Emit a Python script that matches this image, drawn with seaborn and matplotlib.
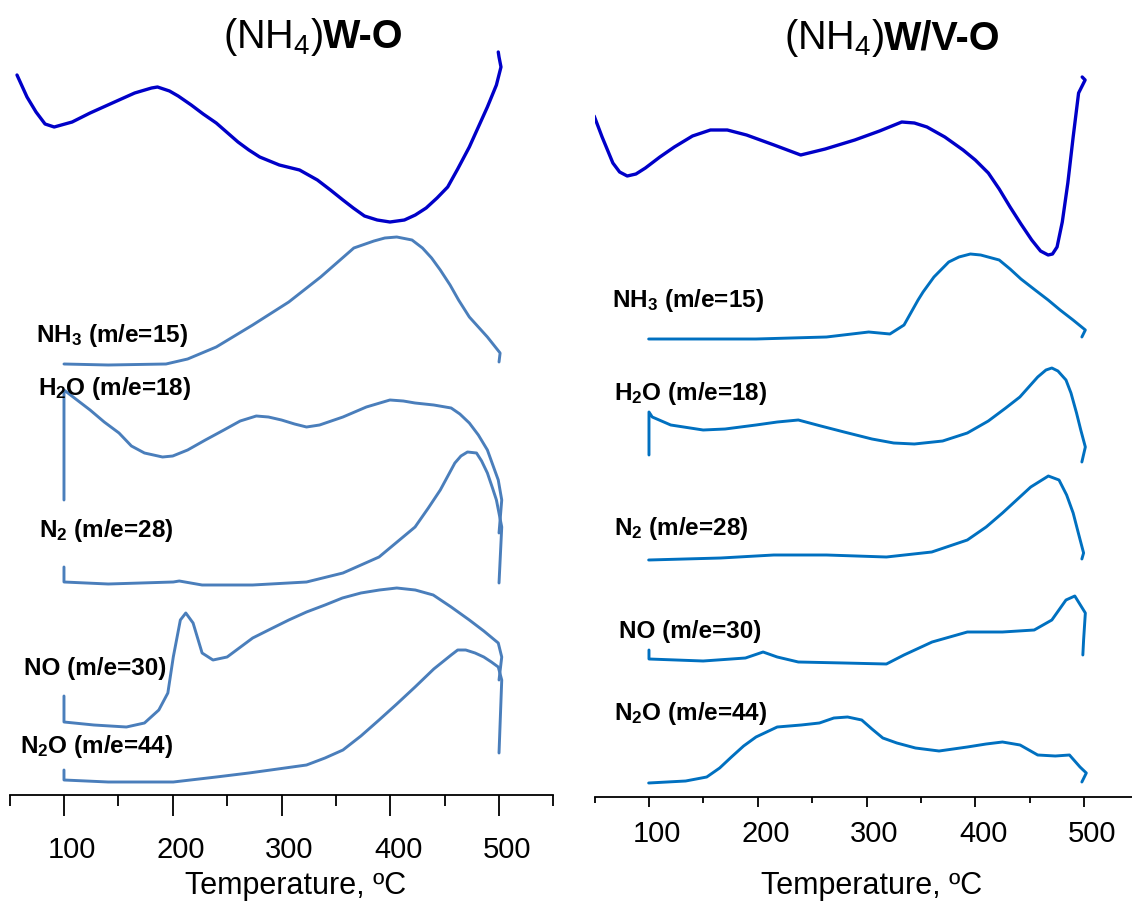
import matplotlib
matplotlib.use("Agg")
import matplotlib.pyplot as plt
from matplotlib.ticker import MultipleLocator
from matplotlib.transforms import ScaledTranslation
import seaborn as sns
import pandas as pd

# ---------------- data (temperature in ºC, stacked intensity in a.u.) ----------------
# (NH4)W-O
wo_tpd_T = [56.8, 66, 74.3, 82.6, 91, 107.5, 124, 150.6, 165, 180.5, 186, 197, 205, 217, 228, 240,
            260, 270, 280, 298, 316.6, 333, 345, 356.5, 366, 376.3, 388, 399.7, 413, 423, 433,
            443, 452.8, 462, 472.7, 481, 489.3, 497.6, 501.8, 500, 499.3]
wo_tpd_y = [720, 698, 683, 671, 668, 673, 682, 695, 702, 707, 708, 704, 699, 690, 681, 672,
            653, 645, 638, 630, 625, 615, 605, 595, 587, 579, 575, 573, 575, 580, 587,
            597, 608, 626, 648, 668, 688, 710, 728, 738, 743]

wo_nh3_T = [100, 140.7, 193.8, 213.7, 240, 273.5, 306.7, 336, 366.5, 385, 395, 406, 420, 429.6,
            438, 446, 455, 462.8, 472.7, 489.3, 501, 500]
wo_nh3_y = [431, 430, 431, 436, 448, 470, 493, 518, 547, 554, 557, 558, 555, 547,
            537, 525, 510, 495, 478, 458, 442, 433]

wo_h2o_T = [100, 100, 112, 124, 137, 150.6, 162, 174, 190.6, 200, 213.7, 230, 247, 262, 276.8,
            288, 300, 312, 323, 335, 356.5, 378, 399.7, 412, 422.8, 440, 456, 464, 472.7,
            481, 489.3, 499.3, 502.5, 500]
wo_h2o_y = [295, 405, 395, 385, 373, 362, 349, 342, 338, 339, 345, 355, 365, 374, 379,
            378, 375, 371, 368, 370, 378, 388, 395, 394, 392, 390, 387, 381, 372,
            360, 345, 315, 295, 262]

wo_n2_T = [100, 100, 140.7, 200.5, 206, 227, 273.5, 323, 356.5, 389.7, 422.8, 435, 446, 459.4,
           465, 471, 479.3, 484, 489.3, 494, 497.6, 502.5, 500]
wo_n2_y = [228, 213, 211, 213, 214, 210, 210, 213, 222, 238, 268, 287, 305, 332,
           339, 343, 342, 334, 322, 307, 295, 268, 212]

wo_no_T = [100, 100, 127.5, 157.4, 174, 187.2, 195.5, 200.5, 207, 212, 218.7, 227, 237, 250,
           273.5, 290, 306.7, 323, 340, 356, 373, 390, 406, 423, 439.5, 456, 472.7, 486,
           499.3, 502.5, 500]
wo_no_y = [99, 73, 70, 68, 72, 85, 102, 138, 175, 182, 172, 142, 135, 138,
           157, 166, 175, 183, 190, 197, 202, 205, 207, 205, 200, 188, 175, 164,
           152, 138, 115]

wo_n2o_T = [100, 100, 140.7, 200.5, 240, 270, 290, 323, 340, 356.5, 373, 389.7, 406, 422.8,
            440, 456, 462, 469.4, 478, 486, 493, 499.3, 502.5, 500]
wo_n2o_y = [25, 15, 13, 13, 18, 22, 25, 30, 37, 45, 59, 75, 91, 108,
            126, 140, 145, 145, 142, 138, 133, 128, 115, 42]

# (NH4)W/V-O
wvo_tpd_T = [49.6, 56.9, 66.8, 73, 80, 88, 96.7, 110, 123.3, 140, 156.5, 172, 189.7, 215, 239.5,
             262, 289.2, 312, 332.4, 344, 355.6, 372, 388.8, 400, 412, 422, 432, 442, 451.9,
             460, 467, 471, 475.2, 480, 485.1, 490, 495, 501, 498.3]
wvo_tpd_y = [681, 660, 634, 625, 621, 623, 629, 640, 650, 661, 667, 667, 662, 652, 642,
             648, 657, 666, 675, 674, 670, 660, 647, 637, 624, 608, 590, 573, 557,
             546, 542, 543, 550, 575, 614, 660, 704, 717, 720]

wvo_nh3_T = [99.7, 198.4, 263.2, 302, 321.5, 334.5, 347.4, 352, 362, 375.6, 385, 395.5, 405, 422,
             432, 442, 455, 467, 478, 489.9, 501.2, 498]
wvo_nh3_y = [458, 458, 460, 465, 463, 472, 497, 505, 520, 535, 540, 543, 542, 537,
             528, 518, 507, 497, 487, 477, 467, 460]

wvo_h2o_T = [100, 100, 103, 120, 149.8, 170, 198.4, 218, 237.3, 258, 279.4, 305, 325, 344, 370,
             392.7, 412, 428, 441, 457.4, 465, 470.4, 476, 483.4, 488, 493.1, 497, 501.2, 498]
wvo_h2o_y = [342, 385, 380, 372, 367, 368, 372, 375, 377, 371, 365, 358, 354, 353, 356,
             364, 376, 389, 400, 420, 427, 429, 426, 417, 404, 384, 367, 350, 335]

wvo_n2_T = [99.7, 166, 214.7, 263.2, 318.3, 360, 392.7, 410, 425, 438, 451, 467.2, 477, 484,
            490, 495, 499.6, 498]
wvo_n2_y = [237, 239, 242, 242, 240, 245, 257, 270, 284, 297, 310, 321, 317, 302,
            284, 263, 244, 238]

wvo_no_T = [100, 100, 149.8, 188.7, 204.9, 217.9, 237.3, 279.4, 318.3, 334.4, 360.3, 392.7, 425,
            454.2, 470.4, 483.4, 491.5, 501.2, 499.6, 498.9]
wvo_no_y = [147, 138, 136, 139, 145, 140, 135, 134, 133, 142, 155, 165, 165,
            167, 177, 197, 201, 184, 157, 142]

wvo_n2o_T = [99.7, 133.7, 153.1, 165, 175.8, 187, 198.4, 217.9, 240, 256.7, 270, 282.6, 295.6,
             305, 315, 327.9, 345, 366.7, 392.7, 410, 425, 441.2, 457.4, 473.6, 486.6, 496.3,
             502.1, 498]
wvo_n2o_y = [14, 16, 20, 29, 40, 51, 60, 70, 72, 74, 79, 80, 77,
             68, 59, 54, 49, 46, 50, 53, 55, 52, 42, 41, 42, 30,
             24, 15]

species_labels = ["NH$_3$ (m/e=15)", "H$_2$O (m/e=18)", "N$_2$ (m/e=28)",
                  "NO (m/e=30)", "N$_2$O (m/e=44)"]
x_ticks = [100, 200, 300, 400, 500]
x_label = "Temperature, ºC"

# ---------------- style ----------------
sns.set_style("white")
plt.rcParams["font.family"] = ["Liberation Sans", "DejaVu Sans"]
plt.rcParams["mathtext.default"] = "regular"
plt.rcParams["text.color"] = "black"
plt.rcParams["axes.labelcolor"] = "black"
plt.rcParams["xtick.color"] = "black"

W, H = 1132, 902
fig = plt.figure(figsize=(W / 100, H / 100), dpi=100)

def px(x0, x1, ybot):
    # axes rect from pixel extents (left, right, bottom spine), top at figure top
    return [x0 / W, (H - ybot) / H, (x1 - x0) / W, ybot / H]

axL = fig.add_axes(px(9.6, 553.4, 795))
axR = fig.add_axes(px(594.6, 1132, 797))

TOP_COLOR = "#0000C8"

def build(curves):
    rows = []
    for name, (T, y) in curves.items():
        for i, (t, v) in enumerate(zip(T, y)):
            rows.append({"trace": name, "order": i, "T": t, "I": v})
    return pd.DataFrame(rows)

left_curves = {"tpd": (wo_tpd_T, wo_tpd_y), "nh3": (wo_nh3_T, wo_nh3_y),
               "h2o": (wo_h2o_T, wo_h2o_y), "n2": (wo_n2_T, wo_n2_y),
               "no": (wo_no_T, wo_no_y), "n2o": (wo_n2o_T, wo_n2o_y)}
right_curves = {"tpd": (wvo_tpd_T, wvo_tpd_y), "nh3": (wvo_nh3_T, wvo_nh3_y),
                "h2o": (wvo_h2o_T, wvo_h2o_y), "n2": (wvo_n2_T, wvo_n2_y),
                "no": (wvo_no_T, wvo_no_y), "n2o": (wvo_n2o_T, wvo_n2o_y)}

shift = ScaledTranslation(8 / 100, 0, fig.dpi_scale_trans)

def draw(ax, curves, ms_color, xlim, ylim, major_len, minor_len, pad, label_xy, lab_pos):
    df = build(curves)
    for name, g in df.groupby("trace", sort=False):
        color = TOP_COLOR if name == "tpd" else ms_color
        lw = 2.4 if name == "tpd" else 2.1
        line_ax = sns.lineplot(data=g, x="T", y="I", sort=False, estimator=None, ax=ax,
                               color=color, lw=lw, legend=False)
        line_ax.lines[-1].set_solid_joinstyle("round")
        line_ax.lines[-1].set_solid_capstyle("round")
    ax.set_xlim(*xlim)
    ax.set_ylim(*ylim)
    ax.set_yticks([])
    ax.set_ylabel("")
    for s in ["left", "right", "top"]:
        ax.spines[s].set_visible(False)
    ax.spines["bottom"].set_linewidth(1.3)
    ax.spines["bottom"].set_color("black")
    ax.set_xticks(x_ticks)
    ax.xaxis.set_minor_locator(MultipleLocator(50))
    ax.tick_params(axis="x", which="major", length=major_len, width=1.3, color="black",
                   labelsize=21, labelcolor="black", pad=pad, direction="out", bottom=True)
    ax.tick_params(axis="x", which="minor", length=minor_len, width=1.3, color="black",
                   direction="out", bottom=True)
    for lab in ax.get_xticklabels():
        lab.set_transform(lab.get_transform() + shift)
    ax.set_xlabel(x_label, fontsize=22, color="black")
    ax.xaxis.set_label_coords(*label_xy)
    ax.patch.set_alpha(0)
    for lab, (t, v) in zip(species_labels, lab_pos):
        ax.text(t, v, lab, fontsize=17.5, fontweight="bold", ha="left", va="baseline",
                color="black")

draw(axL, left_curves, "#4A7EBB", (50, 550), (0, 795), 15, 8, 14.5,
     (0.5267, -0.0960),
     [(74.3, 453), (76, 400), (77, 258), (62.8, 120), (59.4, 41.7)])
draw(axR, right_curves, "#0070C0", (50, 544.1), (0, 797), 7.2, 4.3, 9.3,
     (0.516, -0.0933),
     [(66.3, 490), (67.4, 397), (67.4, 262), (72.1, 158.7), (67.4, 77)])

# titles
for split_px, base_px, bold in [(323, 48, "W-O"), (884, 49, "W/V-O")]:
    fx, fy = split_px / W, (H - base_px) / H
    fig.text(fx, fy, "(NH$_4$)", fontsize=28.5, ha="right", va="baseline", color="black")
    fig.text(fx, fy, bold, fontsize=28.5, fontweight="bold", ha="left", va="baseline",
             color="black")

fig.savefig("out.png", dpi=100)
